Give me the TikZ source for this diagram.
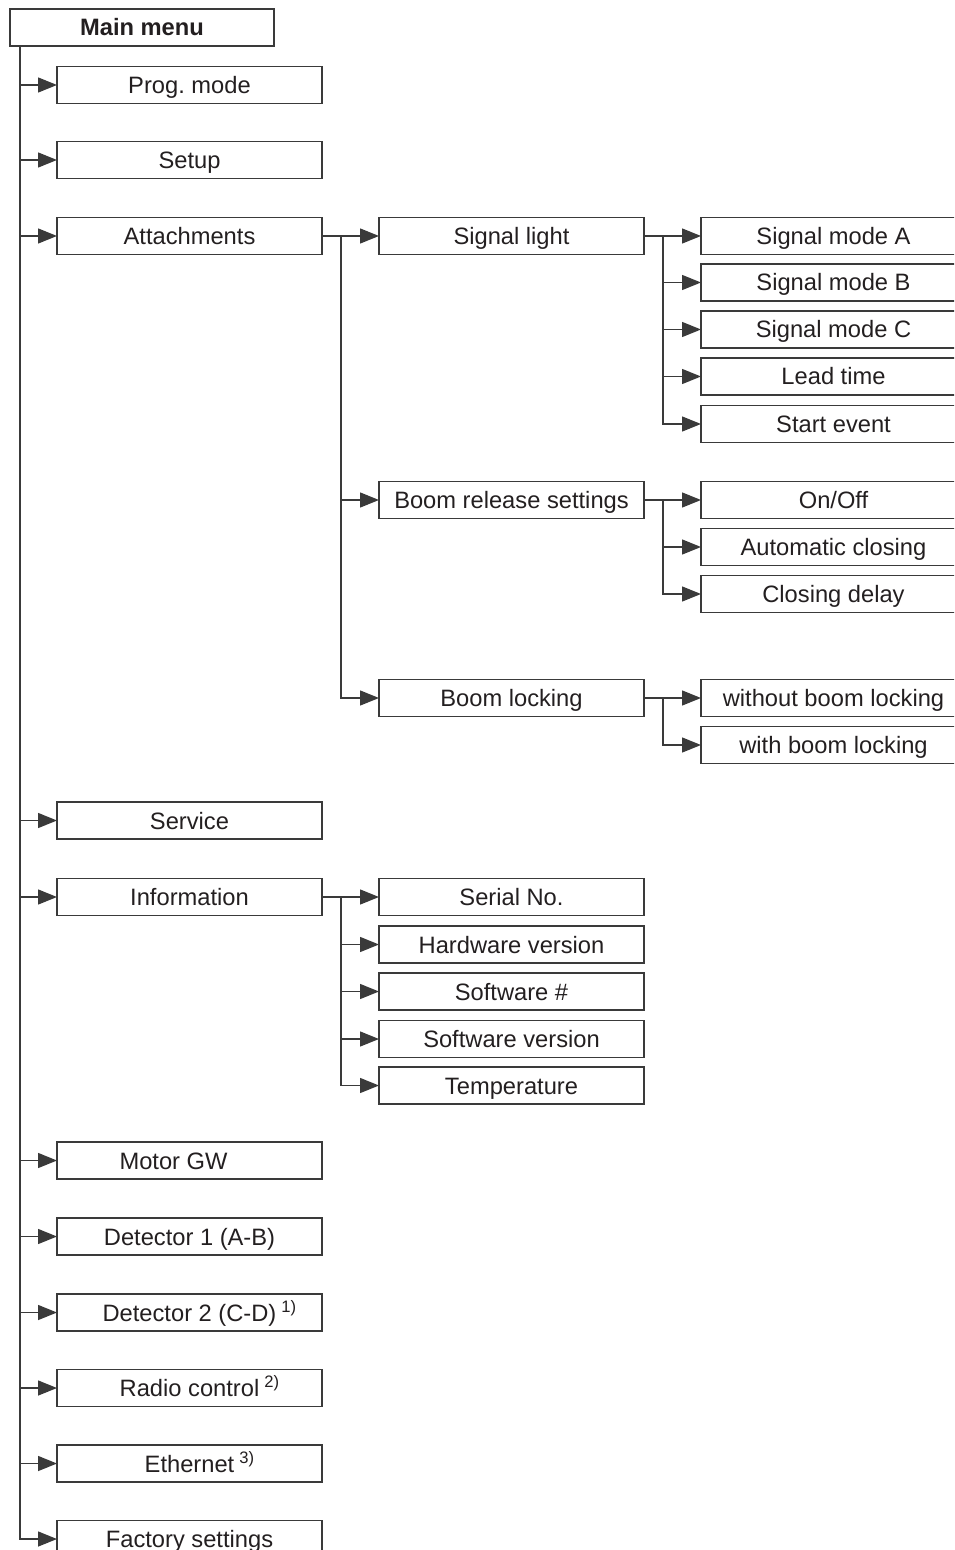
\documentclass[tikz,border=0pt]{standalone}
\usepackage{fontspec}
\setmainfont{Liberation Sans}
\usetikzlibrary{arrows.meta}
\definecolor{menuInk}{HTML}{231F20}
\definecolor{menuLine}{HTML}{3A3A3A}
\frenchspacing
\begin{document}
\begin{tikzpicture}[x=0.5pt,y=-0.5pt,font=\fontsize{11.85}{14}\selectfont,text=menuInk,
  item/.style={draw=menuLine, line width=0.7pt, minimum width=132.5pt, minimum height=18.5pt, inner sep=0pt, outer sep=0pt, text height=8.5pt, text depth=0pt},
  ln/.style={menuLine, line width=0.7pt},
  arr/.style={ln, -{Triangle[length=9.5pt,width=7.5pt]}}]
\useasboundingbox (0,0) rectangle (954,1550);
\clip (0,0) rectangle (954,1550);
% main menu and first level
\node[item, minimum width=132pt, font=\fontsize{11.85}{14}\selectfont\bfseries] (main) at (142,27.5) {Main menu};
\node[item] (prog) at (189.5,85) {Prog. mode};
\node[item] (setup) at (189.5,160) {Setup};
\node[item] (attach) at (189.5,236) {Attachments};
\node[item] (service) at (189.5,820.5) {Service};
\node[item] (info) at (189.5,897) {Information};
\node[item] (motor) at (189.5,1160.5) {Motor GW\hspace*{16pt}};
\node[item] (det1) at (189.5,1236.5) {Detector 1 (A-B)};
\node[item] (det2) at (189.5,1312.5) {Detector 2 (C-D)\rlap{\kern2.5pt\textsuperscript{1)}}};
\node[item] (radio) at (189.5,1388) {Radio control\rlap{\kern2.5pt\textsuperscript{2)}}};
\node[item] (eth) at (189.5,1463.5) {Ethernet\rlap{\kern2.5pt\textsuperscript{3)}}};
\node[item] (factory) at (189.5,1539) {Factory settings};
% attachments submenu
\node[item] (sig) at (511.5,236) {Signal light};
\node[item] (boomrel) at (511.5,500) {Boom release settings};
\node[item] (boomlock) at (511.5,698) {Boom locking};
\node[item] (sigA) at (833.5,236) {Signal mode A};
\node[item] (sigB) at (833.5,282.5) {Signal mode B};
\node[item] (sigC) at (833.5,329.5) {Signal mode C};
\node[item] (lead) at (833.5,376.5) {Lead time};
\node[item] (start) at (833.5,424) {Start event};
\node[item] (onoff) at (833.5,500) {On/Off};
\node[item] (autoclose) at (833.5,547) {Automatic closing};
\node[item] (closedelay) at (833.5,594) {Closing delay};
\node[item] (nolock) at (833.5,698) {without boom locking};
\node[item] (withlock) at (833.5,745) {with boom locking};
% information submenu
\node[item] (serial) at (511.5,897) {Serial No.};
\node[item] (hwver) at (511.5,944.5) {Hardware version};
\node[item] (swnum) at (511.5,991.5) {Software \#};
\node[item] (swver) at (511.5,1039) {Software version};
\node[item] (temp) at (511.5,1085.5) {Temperature};
% trunks
\coordinate (trk1) at (20,46);
\coordinate (trk2) at (341,236);
\coordinate (trk3) at (663,236);
\draw[arr] (trk1) |- (factory.west);
\foreach \n in {prog,setup,attach,service,info,motor,det1,det2,radio,eth}
  \draw[arr] (\n.west -| trk1) -- (\n.west);
% attachments branch
\draw[arr] (attach.east) -- (sig.west);
\draw[arr] (attach.east -| trk2) |- (boomlock.west);
\draw[arr] (boomrel.west -| trk2) -- (boomrel.west);
% signal light branch
\draw[arr] (sig.east) -- (sigA.west);
\draw[arr] (sig.east -| trk3) |- (start.west);
\foreach \n in {sigB,sigC,lead}
  \draw[arr] (\n.west -| trk3) -- (\n.west);
% boom release branch
\draw[arr] (boomrel.east) -- (onoff.west);
\draw[arr] (boomrel.east -| trk3) |- (closedelay.west);
\draw[arr] (autoclose.west -| trk3) -- (autoclose.west);
% boom locking branch
\draw[arr] (boomlock.east) -- (nolock.west);
\draw[arr] (boomlock.east -| trk3) |- (withlock.west);
% information branch
\draw[arr] (info.east) -- (serial.west);
\draw[arr] (info.east -| trk2) |- (temp.west);
\foreach \n in {hwver,swnum,swver}
  \draw[arr] (\n.west -| trk2) -- (\n.west);
\end{tikzpicture}
\end{document}
